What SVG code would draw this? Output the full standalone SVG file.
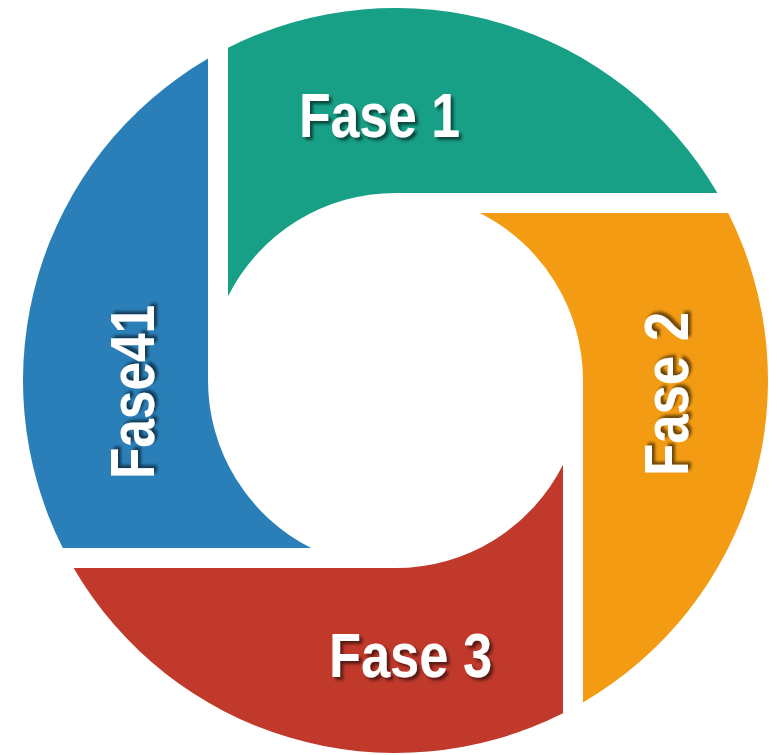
<svg xmlns="http://www.w3.org/2000/svg" width="777" height="755" viewBox="0 0 777 755">
  <defs>
    <filter id="sh" x="-10%" y="-20%" width="120%" height="140%">
      <feGaussianBlur in="SourceAlpha" stdDeviation="1.5"/>
      <feOffset dx="2.5" dy="2.5" result="o"/>
      <feFlood flood-color="#000" flood-opacity="0.55"/>
      <feComposite in2="o" operator="in"/>
      <feMerge><feMergeNode/><feMergeNode in="SourceGraphic"/></feMerge>
    </filter>
  </defs>
  <style>
    .lbl { font-family: "Liberation Sans", Arial, sans-serif; font-weight: bold; font-size: 63px; fill: #ffffff; filter: url(#sh); }
  </style>
  <rect width="777" height="755" fill="#ffffff"/>
  <g id="fase1">
    <path d="M228,47.8 L228,296.2 A187.5,187.5 0 0 1 395.5,193 L717.4,193 A372.5,372.5 0 0 0 228,47.8 Z" fill="#17A086"/>
    <text class="lbl" x="299" y="137" textLength="161" lengthAdjust="spacingAndGlyphs">Fase 1</text>
  </g>
  <g id="fase2">
    <path d="M728.2,213 L479.8,213 A187.5,187.5 0 0 1 583,380.5 L583,702.4 A372.5,372.5 0 0 0 728.2,213 Z" fill="#F39C13"/>
    <text class="lbl" transform="translate(688,476) rotate(-90)" x="0" y="0" textLength="164" lengthAdjust="spacingAndGlyphs">Fase 2</text>
  </g>
  <g id="fase3">
    <path d="M563,713.2 L563,464.8 A187.5,187.5 0 0 1 395.5,568 L73.6,568 A372.5,372.5 0 0 0 563,713.2 Z" fill="#C0392B"/>
    <text class="lbl" x="329" y="677" textLength="163" lengthAdjust="spacingAndGlyphs">Fase 3</text>
  </g>
  <g id="fase4">
    <path d="M62.8,548 L311.2,548 A187.5,187.5 0 0 1 208,380.5 L208,58.6 A372.5,372.5 0 0 0 62.8,548 Z" fill="#2A7FB8"/>
    <text class="lbl" transform="translate(154,479) rotate(-90)" x="0" y="0" textLength="174" lengthAdjust="spacingAndGlyphs">Fase41</text>
  </g>
  <g id="connectors"/>
</svg>
